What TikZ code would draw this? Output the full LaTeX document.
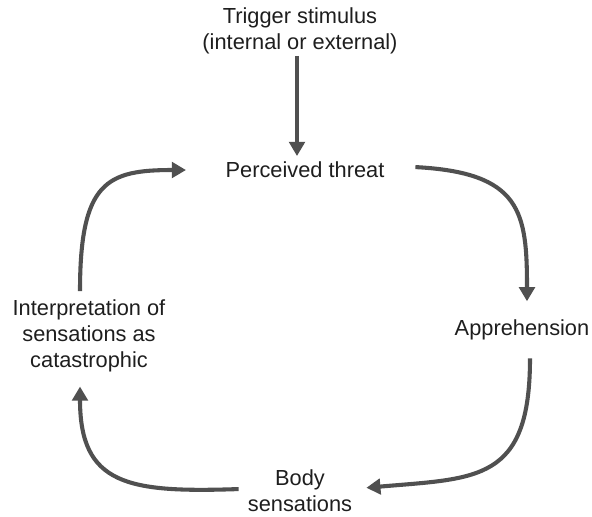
\documentclass[tikz,border=0pt]{standalone}
\usepackage{fontspec}
\setmainfont{Liberation Sans}
\usetikzlibrary{arrows.meta}
\definecolor{arrowgray}{HTML}{505050}
\definecolor{textgray}{HTML}{1E1E1E}
\tikzset{
  label/.style={align=center,inner sep=0pt,text=textgray,
    font=\fontsize{15.5}{18.5}\selectfont},
  cycle/.style={draw=arrowgray,line width=2.9pt,
    -{Triangle[length=10pt,width=11pt]},shorten <=1pt}
}
\begin{document}
\begin{tikzpicture}[x=0.025cm,y=-0.025cm]
\useasboundingbox (0,0) rectangle (592,516);
% nodes of the loop
\node[label] (trigger) at (300,31) {Trigger stimulus\\(internal or external)};
\node[label] (threat) at (305,170) {Perceived threat};
\node[label] (appr) at (522,330) {Apprehension};
\node[label] (body) at (300,491) {Body\\sensations};
\node[label] (interp) at (89,336) {Interpretation of\\sensations as\\catastrophic};
% arrows
\draw[cycle] (trigger.south -| 297,0) -- (297,156);
\draw[cycle,shorten <=6pt,shorten >=28pt] (interp.north -| 80,0) to[out=90,in=180,looseness=1.55] (threat.west);
\draw[cycle,shorten >=13pt] (414,167) to[out=-3,in=90,looseness=1.45] (appr.north -| 527,0);
\draw[cycle,shorten >=10pt] (530,357) to[out=-90,in=5,looseness=1.45] (body.east |- 0,489);
\draw[cycle,shorten >=10pt] (240,489) to[out=182,in=-90,looseness=1.45] (interp.south -| 80,0);
\end{tikzpicture}
\end{document}
